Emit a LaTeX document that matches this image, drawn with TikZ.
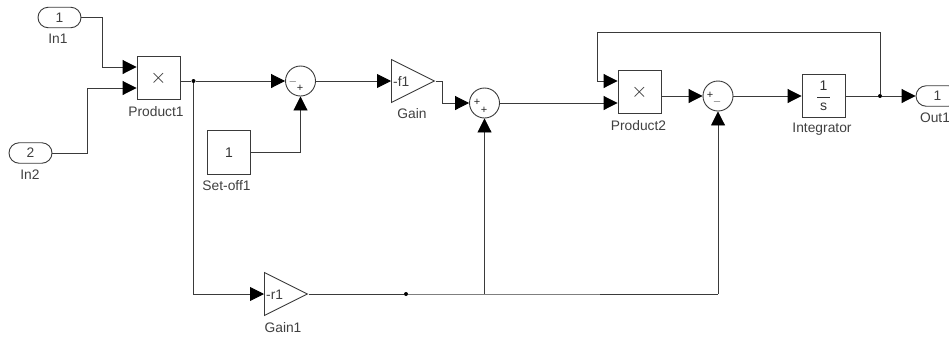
\documentclass[tikz,border=0pt]{standalone}
\usepackage{amsmath, amsfonts, amssymb}
\usepackage{fontspec}
\setmainfont{Liberation Sans}
\usepackage{tikz}
\usetikzlibrary{arrows.meta, shapes.geometric, shapes.misc}
\definecolor{wirecol}{HTML}{3A3A3A}
\definecolor{textcol}{HTML}{404040}
\tikzset{
    wire/.style = {draw=wirecol, line width=.9pt},
    feed/.style = {wire, -{Triangle[length=14pt, width=14pt, black]}},
    block/.style = {draw=wirecol, line width=.9pt, minimum width=43pt, minimum height=43.5pt, inner sep=0pt, text=black!80, font=\fontsize{14}{16}\selectfont},
    port/.style = {draw=wirecol, line width=.9pt, rounded rectangle, minimum width=43pt, minimum height=20.5pt, inner sep=0pt, text=textcol, font=\fontsize{13.8}{16}\selectfont},
    sumblock/.style = {draw=wirecol, line width=.9pt, circle, minimum size=30pt, inner sep=0pt},
    gainblock/.style = {draw=wirecol, line width=.9pt, isosceles triangle, isosceles triangle stretches, minimum width=43pt, minimum height=43pt, inner sep=0pt, anchor=lower side},
    tag/.style = {text=textcol, inner sep=0pt, font=\fontsize{13.8}{16}\selectfont},
    sign/.style = {text=black!85, inner sep=0pt, font=\fontsize{11}{12}\selectfont},
    dot/.style = {circle, fill=black, inner sep=0pt, minimum size=4pt}
}
\begin{document}
\begin{tikzpicture}[x=1pt, y=-1pt]
    \useasboundingbox (0,0) rectangle (949,338);
    % blocks
    \node[port] (inA) at (59.5,17.5) {1};
    \node[port] (inB) at (30.5,153) {2};
    \node[block] (prodA) at (158.5,78) {\fontsize{20}{20}\selectfont$\times$};
    \node[block] (setoff) at (229,152.5) {1};
    \node[sumblock] (sumA) at (300.5,81) {};
    \node[gainblock] (gainA) at (391,81) {};
    \node[sumblock] (sumB) at (484.5,103) {};
    \node[block] (prodB) at (639.5,92) {\fontsize{20}{20}\selectfont$\times$};
    \node[sumblock] (sumC) at (718,96) {};
    \node[block] (integ) at (823.5,96) {$\dfrac{\text{\,1\,}}{\text{\,s\,}}$};
    \node[port] (outA) at (937.5,96) {1};
    \node[gainblock] (gainB) at (264,294) {};
    % block texts
    \node[tag, anchor=west] (gainAval) at (393,82) {-f1};
    \node[tag, anchor=west] (gainBval) at (266,295) {-r1};
    \node[tag] (inAtag) at (58,39) {In1};
    \node[tag] (inBtag) at (30,175) {In2};
    \node[tag] (prodAtag) at (156,111.5) {Product1};
    \node[tag] (setofftag) at (226.5,185.5) {Set-off1};
    \node[tag] (gainAtag) at (412,114) {Gain};
    \node[tag] (gainBtag) at (283,327.5) {Gain1};
    \node[tag] (prodBtag) at (638.5,126) {Product2};
    \node[tag] (integtag) at (822,129) {Integrator};
    \node[tag] (outAtag) at (935,118) {Out1};
    % signs of the sums
    \foreach \n/\x/\y/\s in {a/293/81.5/$-$, b/300/88.5/+, c/477/102/+, d/484/110/+, e/710/95/+, f/717/102/$-$}
        \node[sign] (sign\n) at (\x,\y) {\s};
    % junctions and bends
    \node[dot] (jointA) at (193.5,81) {};
    \node[dot] (jointB) at (880,96) {};
    \node[dot] (jointC) at (406,294) {};
    \coordinate (takeoff) at (sumB.south |- jointC);
    \coordinate (lift) at (sumC.south |- jointC);
    % wires
    \draw[feed] (inA.east) -- ++(21,0) |- ([yshift=11pt]prodA.west);
    \draw[feed] (inB.east) -- ++(35,0) |- ([yshift=-10pt]prodA.west);
    \draw[wire] ([yshift=-3pt]prodA.east) -- (jointA);
    \draw[feed] (jointA) -- (sumA.west);
    \draw[feed] (jointA) |- (gainB.lower side);
    \draw[feed] (setoff.east) -| (sumA.south);
    \draw[feed] (sumA.east) -- (gainA.lower side);
    \draw[feed] (gainA.apex) -- ++(7,0) |- (sumB.west);
    \draw[feed] (sumB.east) -- ([yshift=-11pt]prodB.west);
    \draw[feed] ([yshift=-4pt]prodB.east) -- (sumC.west);
    \draw[feed] (sumC.east) -- (integ.west);
    \draw[wire] (integ.east) -- (jointB);
    \draw[feed] (jointB) -- (outA.west);
    \draw[feed] (jointB) |- (597,32) |- ([yshift=11pt]prodB.west);
    \draw[wire] (gainB.apex) -- (jointC) -- (takeoff) -- (lift);
    \draw[feed] (takeoff) -- (sumB.south);
    \draw[feed] (lift) -- (sumC.south);
\end{tikzpicture}
\end{document}
